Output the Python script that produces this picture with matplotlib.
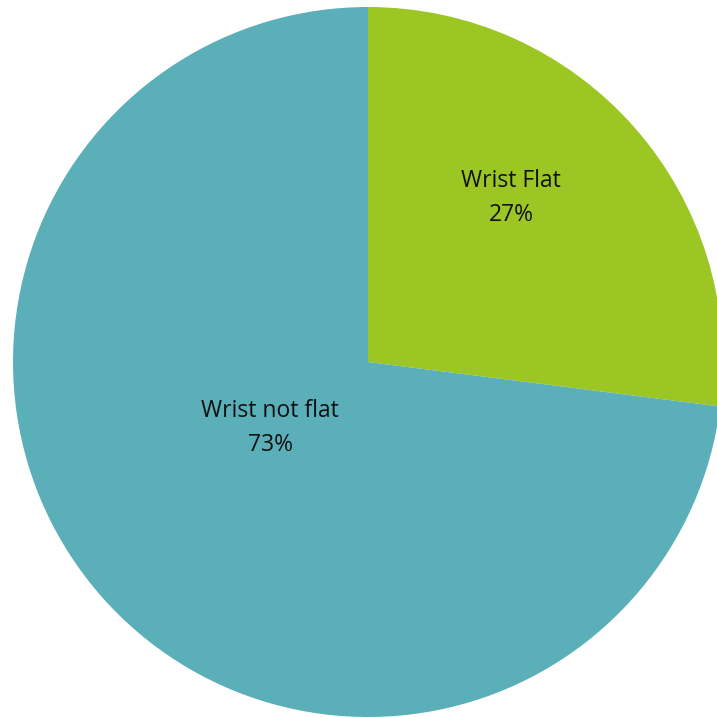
import matplotlib
matplotlib.use("Agg")
import matplotlib.pyplot as plt

# share of swings by wrist position
labels = ["Wrist Flat", "Wrist not flat"]
shares = [27, 73]
colors = ["#9bc623", "#5aafb8"]

# label centres (axes data units, pie radius = 1)
label_xy = [(0.403, 0.462), (-0.276, -0.186)]

fig = plt.figure(figsize=(7.17, 7.17), dpi=100)
ax = fig.add_axes([13 / 717, 0.0, 710 / 717, 710 / 717])

ax.pie(shares, colors=colors, startangle=90, counterclock=False,
       radius=1.0, wedgeprops=dict(linewidth=0))

for name, val, (x, y) in zip(labels, shares, label_xy):
    ax.text(x, y, "%s\n%d%%" % (name, val), ha="center", va="center",
            fontsize=16.5, family="Open Sans", linespacing=1.6,
            color="#111111")

ax.set_xlim(-1, 1)
ax.set_ylim(-1, 1)
ax.set_aspect("equal")
ax.axis("off")

fig.savefig("out.png", dpi=100)
